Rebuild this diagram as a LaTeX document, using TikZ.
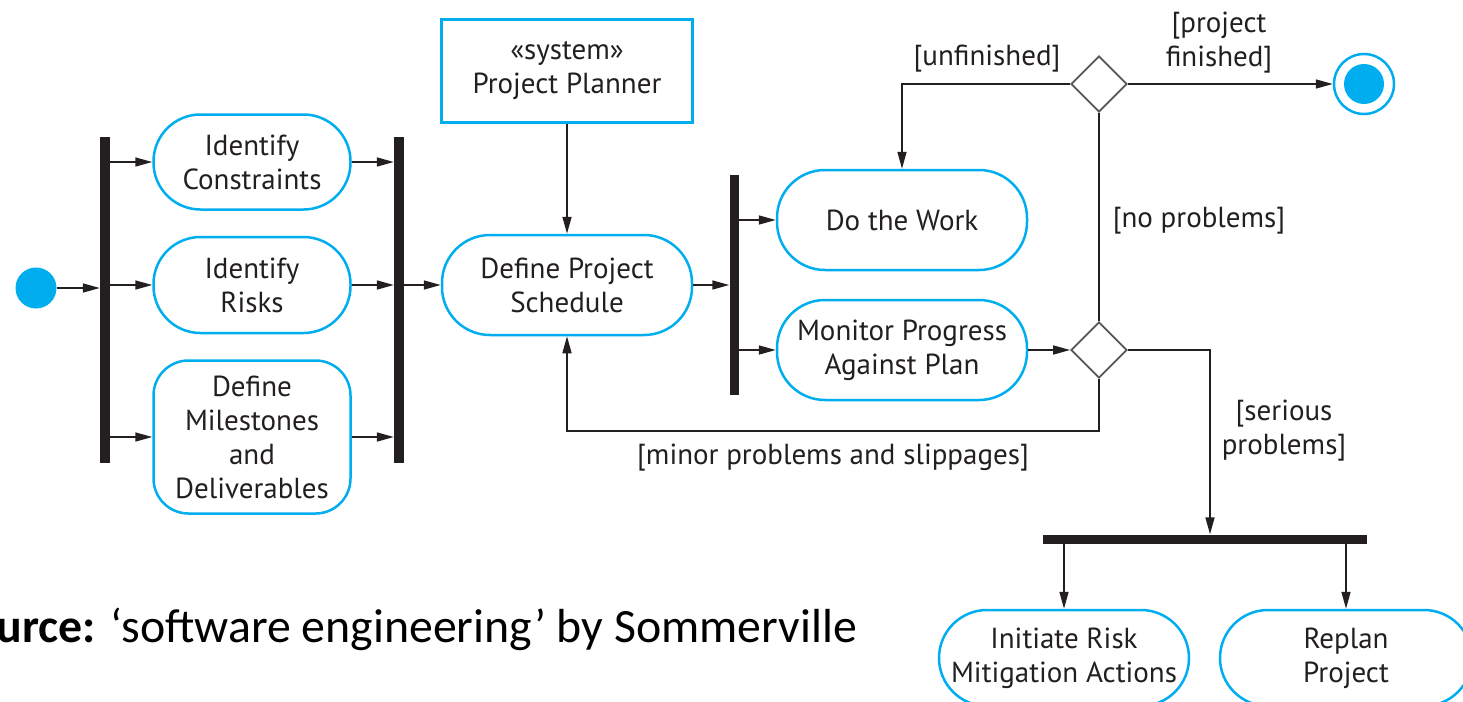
\documentclass[tikz,border=0pt]{standalone}
\usepackage{fontspec}
\setmainfont{PT Sans}
\newfontfamily\srcfont{Carlito}
\usetikzlibrary{arrows.meta,shapes.geometric}
\definecolor{umlblue}{HTML}{00AEEF}
\definecolor{ink}{HTML}{231F20}
\definecolor{dgray}{HTML}{555555}
\begin{document}
\begin{tikzpicture}[x=1pt,y=-1pt,
  every node/.style={text=ink},
  act/.style={draw=umlblue, line width=2.5pt, rounded corners=48pt, minimum width=250pt, minimum height=100pt, align=center, font=\fontsize{29}{34}\selectfont, inner sep=0pt},
  bar/.style={fill=ink, draw=none, inner sep=0pt},
  dec/.style={diamond, draw=dgray, line width=1.8pt, minimum width=56pt, minimum height=56pt, inner sep=0pt, fill=white},
  arr/.style={draw=ink, line width=1.6pt, -{Triangle[length=17pt,width=9pt]}},
  ln/.style={draw=ink, line width=1.6pt},
  guard/.style={font=\fontsize{29}{34}\selectfont, align=center, inner sep=0pt},
]
\useasboundingbox (0,0) rectangle (1463,701);
\clip (0,0) rectangle (1463,701);

% nodes
\node[circle, fill=umlblue, minimum size=41pt, inner sep=0pt] (start) at (36,288) {};
\node[bar, minimum width=10pt, minimum height=326pt] (fork1) at (105,300) {};
\node[act, minimum width=197pt, minimum height=95pt, rounded corners=47pt] (ic) at (252,162) {Identify\\Constraints};
\node[act, minimum width=197pt, minimum height=96pt, rounded corners=47pt] (ir) at (252,285) {Identify\\Risks};
\node[act, minimum width=197pt, minimum height=153pt, rounded corners=35pt] (dm) at (252,437) {Define\\Milestones\\and\\Deliverables};
\node[bar, minimum width=10pt, minimum height=326pt] (join1) at (399,300) {};
\node[draw=umlblue, line width=3pt, minimum width=251pt, minimum height=102pt, align=center, font=\fontsize{29}{34}\selectfont, inner sep=0pt] (pp) at (567,71) {«system»\\Project Planner};
\node[act] (dps) at (567,285) {Define Project\\Schedule};
\node[bar, minimum width=9pt, minimum height=220pt] (fork3) at (734,285) {};
\node[act] (dw) at (902,220) {Do the Work};
\node[act] (mp) at (902,350) {Monitor Progress\\Against Plan};
\node[dec] (d1) at (1099,84) {};
\node[dec] (d2) at (1099,350) {};
\node[circle, draw=umlblue, line width=2.5pt, minimum size=60pt, inner sep=0pt] (final) at (1364,84) {};
\node[circle, fill=umlblue, minimum size=40pt, inner sep=0pt] (finalin) at (1364,84) {};
\node[bar, minimum width=324pt, minimum height=9pt] (fork4) at (1205,539) {};
\node[act, minimum height=96pt] (irm) at (1064,658) {Initiate Risk\\Mitigation Actions};
\node[act, minimum width=252pt, minimum height=96pt] (rp) at (1346,658) {Replan\\Project};

\coordinate (loopy) at (0,431);
\coordinate (serx) at (1210,0);

% connectors
\draw[arr] (start) -- (start -| fork1.west);
\draw[arr] (fork1.east |- ic) -- (ic.west);
\draw[arr] (fork1.east |- ir) -- (ir.west);
\draw[arr] (fork1.east |- dm) -- (dm.west);
\draw[arr] (ic.east) -- (ic -| join1.west);
\draw[arr] (ir.east) -- (ir -| join1.west);
\draw[arr] (dm.east) -- (dm -| join1.west);
\draw[arr] (join1.east |- dps) -- (dps.west);
\draw[arr] (pp.south) -- (dps.north);
\draw[arr] (dps.east) -- (dps -| fork3.west);
\draw[arr] (fork3.east |- dw) -- (dw.west);
\draw[arr] (fork3.east |- mp) -- (mp.west);
\draw[arr] (mp.east) -- (d2.west);
\draw[ln] (d2.north) -- (d1.south);
\draw[arr] (d1.west) -| (dw.north);
\draw[arr] (d1.east) -- (final.west);
\draw[arr] (d2.south) |- (dps.south |- loopy) -- (dps.south);
\draw[arr] (d2.east) -| (serx |- fork4.north);
\draw[arr] (fork4.south -| irm.north) -- (irm.north);
\draw[arr] (fork4.south -| rp.north) -- (rp.north);

% guards
\node[guard, anchor=base] (gunf) at (987,65) {[unfinished]};
\node[guard] (gfin) at (1219,43) {[project\\finished]};
\node[guard, anchor=base] (gnop) at (1199,227) {[no problems]};
\node[guard] (gser) at (1284,431) {[serious\\problems]};
\node[guard, anchor=base] (gmin) at (833,464) {[minor problems and slippages]};

% source
\node[anchor=base east, inner sep=0pt, text=black, font=\srcfont\fontsize{47.8}{56}\selectfont] (src) at (857,642) {\textbf{Source:} ‘software engineering’ by Sommerville};
\end{tikzpicture}
\end{document}
